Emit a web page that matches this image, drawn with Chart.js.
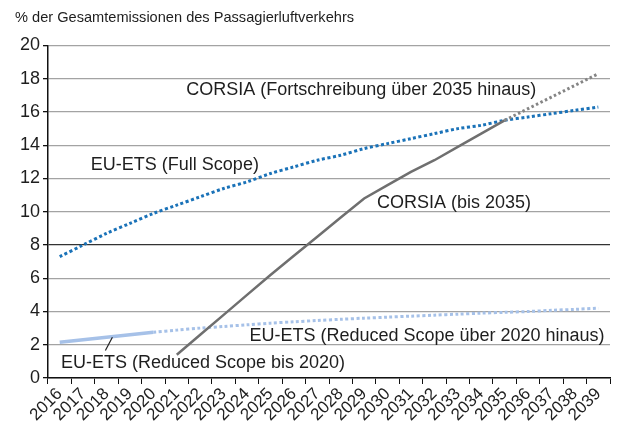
<!DOCTYPE html>
<html>
<head>
<meta charset="utf-8">
<script src="https://cdn.jsdelivr.net/npm/chart.js@4"></script>
<style>
  html, body { margin: 0; padding: 0; background: #fff; }
  #wrap { width: 622px; height: 425px; }
</style>
</head>
<body>
<div id="wrap"><canvas id="c" width="622" height="425"></canvas></div>
<script>
// Jahre (Kategorien)
const years = ['2016','2017','2018','2019','2020','2021','2022','2023','2024','2025','2026','2027',
               '2028','2029','2030','2031','2032','2033','2034','2035','2036','2037','2038','2039'];

// EU-ETS (Full Scope)
const etsFull = [7.3, 8.0, 8.7, 9.3, 9.9, 10.4, 10.9, 11.4, 11.8, 12.3, 12.7, 13.1,
                 13.4, 13.8, 14.1, 14.4, 14.7, 15.0, 15.2, 15.5, 15.7, 15.9, 16.1, 16.3];

// EU-ETS (Reduced Scope bis 2020)
const etsReduced = [2.15, 2.3, 2.45, 2.6, 2.75, null, null, null, null, null, null, null,
                    null, null, null, null, null, null, null, null, null, null, null, null];

// EU-ETS (Reduced Scope über 2020 hinaus)
const etsReducedExt = [null, null, null, null, 2.75, 2.88, 3.0, 3.1, 3.2, 3.3, 3.38, 3.46,
                       3.53, 3.6, 3.66, 3.72, 3.78, 3.84, 3.9, 3.95, 4.0, 4.07, 4.13, 4.2];

// CORSIA (bis 2035)
const corsia = [null, null, null, null, null, 1.4, 2.6, 3.8, 5.0, 6.2, 7.35, 8.5,
                9.65, 10.8, 11.6, 12.4, 13.1, 13.9, 14.7, 15.5, null, null, null, null];

// CORSIA (Fortschreibung über 2035 hinaus)
const corsiaExt = [null, null, null, null, null, null, null, null, null, null, null, null,
                   null, null, null, null, null, null, null, 15.5, 16.2, 16.9, 17.6, 18.3];

const yTicks = [0, 2, 4, 6, 8, 10, 12, 14, 16, 18, 20];

// Beschriftungen im Diagramm: [Text, Kategorie-Index (links), Wert (Mitte)]
const labels = [
  ['CORSIA (Fortschreibung über 2035 hinaus)', 5.4, 17.3],
  ['EU-ETS (Full Scope)', 1.33, 12.8],
  ['CORSIA (bis 2035)', 13.55, 10.5],
  ['EU-ETS (Reduced Scope über 2020 hinaus)', 8.1, 2.55],
  ['EU-ETS (Reduced Scope bis 2020)', 0.05, 0.9]
];
// Hinweislinie zur Reduced-Scope-Linie
const pointer = [[1.95, 1.65], [2.25, 2.45]];

const FONT = '"Liberation Sans", Arial, Helvetica, sans-serif';

const annotate = {
  id: 'annotate',
  afterDatasetsDraw(chart) {
    const { ctx, scales: { x, y } } = chart;
    const step = x.getPixelForValue(1) - x.getPixelForValue(0);
    const px = (i) => x.getPixelForValue(0) + i * step;
    ctx.save();
    ctx.font = '18px ' + FONT;
    ctx.fillStyle = '#1e1e1e';
    ctx.textBaseline = 'middle';
    ctx.textAlign = 'left';
    labels.forEach(([t, i, v]) => ctx.fillText(t, px(i), y.getPixelForValue(v)));
    ctx.strokeStyle = '#222';
    ctx.lineWidth = 1.2;
    ctx.beginPath();
    ctx.moveTo(px(pointer[0][0]), y.getPixelForValue(pointer[0][1]));
    ctx.lineTo(px(pointer[1][0]), y.getPixelForValue(pointer[1][1]));
    ctx.stroke();
    ctx.restore();
  }
};

new Chart(document.getElementById('c'), {
  type: 'line',
  data: {
    labels: years,
    datasets: [
      { data: corsia, borderColor: '#6f6f6f', borderWidth: 2.5, tension: 0 },
      { data: corsiaExt, borderColor: '#858585', borderWidth: 3, borderDash: [2.5, 2.5], tension: 0 },
      { data: etsFull, borderColor: '#1a72b8', borderWidth: 3, borderDash: [3, 2.5] },
      { data: etsReducedExt, borderColor: '#a6c1e8', borderWidth: 3, borderDash: [3, 2.5] },
      { data: etsReduced, borderColor: '#a6c1e8', borderWidth: 3.5 }
    ]
  },
  options: {
    responsive: false,
    animation: false,
    layout: { padding: { left: 15, right: 12, top: 0, bottom: 0 } },
    elements: { point: { radius: 0 }, line: { tension: 0.3, borderCapStyle: 'butt' } },
    plugins: {
      legend: { display: false },
      tooltip: { enabled: false },
      title: {
        display: true,
        text: '% der Gesamtemissionen des Passagierluftverkehrs',
        align: 'start',
        color: '#1e1e1e',
        font: { family: FONT, size: 14.6, weight: 'normal' },
        padding: { top: 9, bottom: 19 }
      }
    },
    scales: {
      x: {
        type: 'category',
        offset: true,
        grid: { display: true, drawOnChartArea: false, drawTicks: true, tickLength: 6, offset: true, color: '#111' },
        border: { color: '#111', width: 1.5 },
        ticks: {
          color: '#1e1e1e', font: { family: FONT, size: 17 },
          minRotation: 45, maxRotation: 45, autoSkip: false, padding: 0
        },
        afterFit: (s) => { s.height = 47; }
      },
      y: {
        min: 0, max: 20,
        afterBuildTicks: (s) => { s.ticks = yTicks.map(v => ({ value: v })); },
        grid: {
          color: (c) => c.tick && c.tick.value === 8 ? '#333' : '#a3a3a3',
          lineWidth: 1.3,
          drawTicks: true, tickLength: 5,
          tickColor: '#111'
        },
        border: { color: '#111', width: 1.5 },
        ticks: { color: '#1e1e1e', font: { family: FONT, size: 18 }, padding: 3 },
        afterFit: (s) => { s.width = 33; }
      }
    }
  },
  plugins: [annotate]
});
</script>
</body>
</html>
